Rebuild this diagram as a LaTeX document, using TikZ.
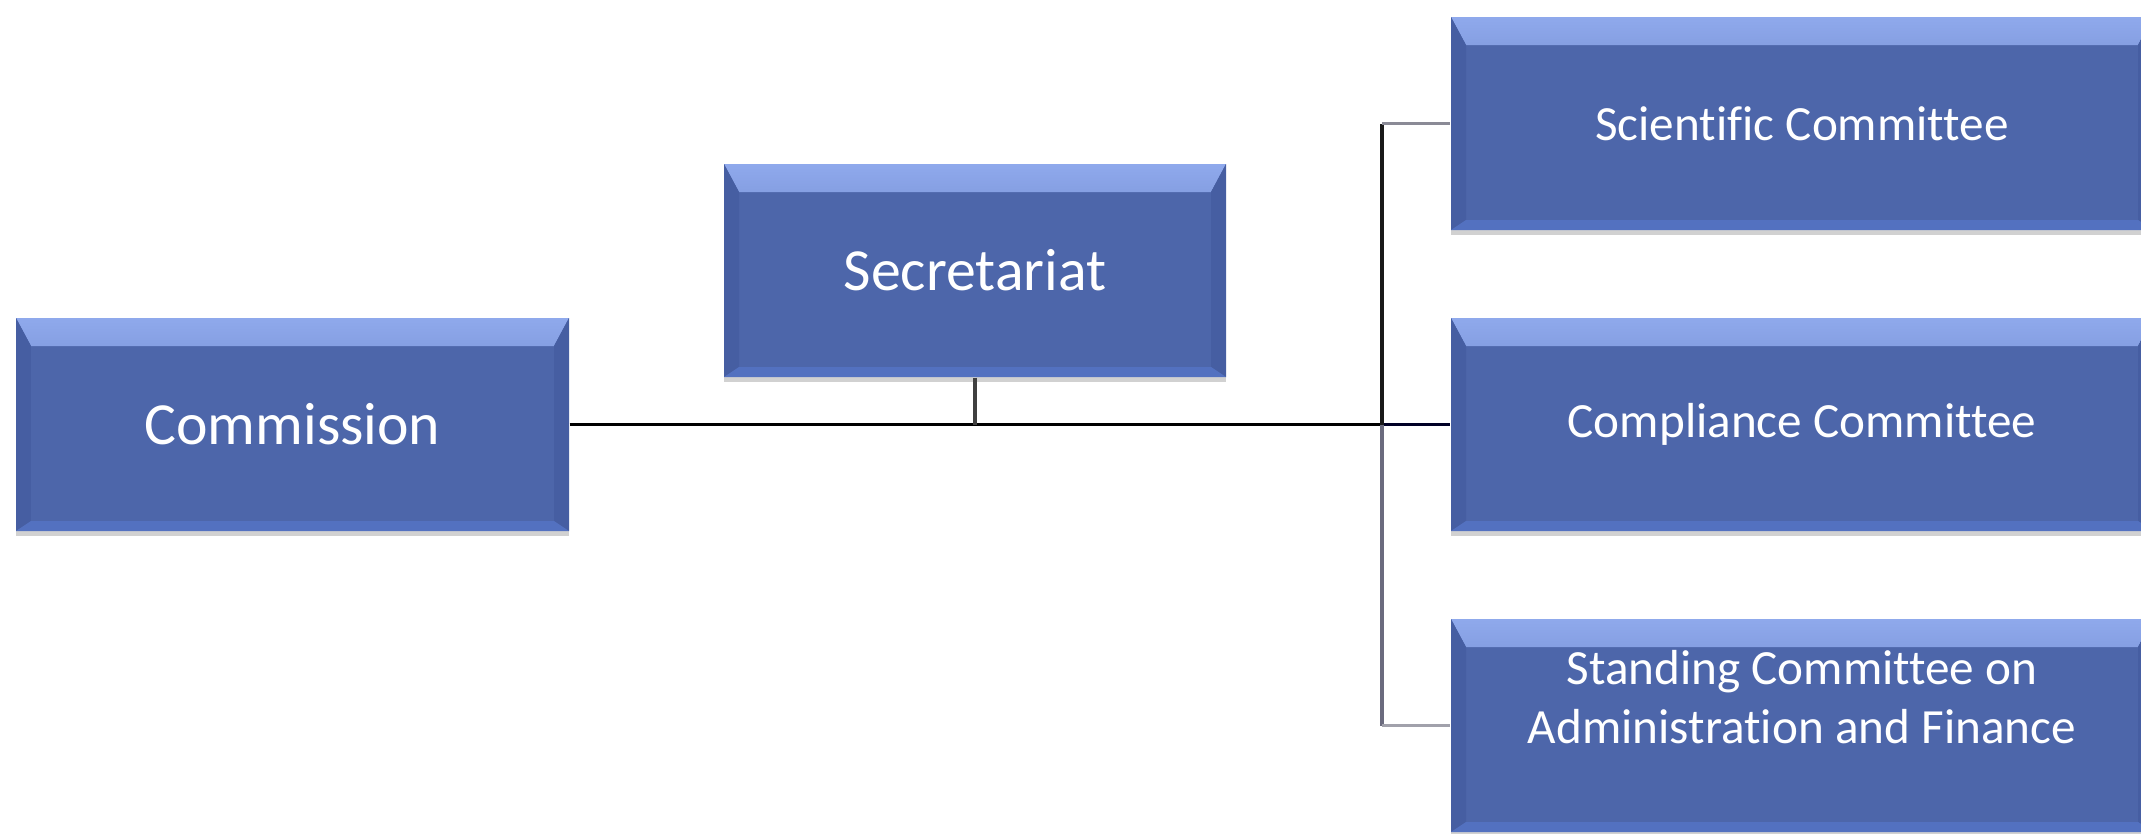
\documentclass[tikz,border=0pt]{standalone}
\usepackage{fontspec}
\setmainfont[Ligatures=NoCommon]{Carlito}
\usetikzlibrary{shadows}

\definecolor{boxblue}{HTML}{4D66AA}
\definecolor{bevtop}{HTML}{8FA9EC}
\definecolor{bevside}{HTML}{465EA2}
\definecolor{bevbottom}{HTML}{5371C0}
\definecolor{stubgray}{HTML}{8A8A96}
\definecolor{busgray}{HTML}{6B6B7E}

\begin{document}
\begin{tikzpicture}[
    orgbox/.style={fill=boxblue, text=white, align=center, inner sep=2pt,
        minimum height=2.13cm,
        drop shadow={shadow xshift=0pt, shadow yshift=-0.05cm, opacity=0.3, fill=black!60},
        path picture={
            % bevelled edges
            \shade[top color=bevtop, bottom color=boxblue, middle color=bevtop!45!boxblue]
                (path picture bounding box.north west) -- (path picture bounding box.north east)
                -- ([xshift=-\bevs,yshift=-\bevt]path picture bounding box.north east)
                -- ([xshift=\bevs,yshift=-\bevt]path picture bounding box.north west) -- cycle;
            \fill[bevside]
                (path picture bounding box.north west) -- ([xshift=\bevs,yshift=-\bevt]path picture bounding box.north west)
                -- ([xshift=\bevs,yshift=\bevb]path picture bounding box.south west) -- (path picture bounding box.south west) -- cycle;
            \fill[bevside]
                (path picture bounding box.north east) -- ([xshift=-\bevs,yshift=-\bevt]path picture bounding box.north east)
                -- ([xshift=-\bevs,yshift=\bevb]path picture bounding box.south east) -- (path picture bounding box.south east) -- cycle;
            \fill[bevbottom]
                (path picture bounding box.south west) -- ([xshift=\bevs,yshift=\bevb]path picture bounding box.south west)
                -- ([xshift=-\bevs,yshift=\bevb]path picture bounding box.south east) -- (path picture bounding box.south east) -- cycle;
        }},
    bigtext/.style={font=\fontsize{17}{20}\selectfont},
    smalltext/.style={font=\fontsize{14}{17}\selectfont},
    conn/.style={line width=0.9pt}
]
    % Bevel sizes
    \def\bevt{0.28cm} % top
    \def\bevs{0.15cm} % sides
    \def\bevb{0.1cm}  % bottom

    % Fix the page size
    \useasboundingbox (0, 0) rectangle (21.41, 8.33);

    % Draw the boxes
    \node[orgbox, bigtext, minimum width=5.53cm] (comm) at (2.925, 4.085) {Commission};
    \node[orgbox, bigtext, minimum width=5.02cm] (secr) at (9.75, 5.625) {Secretariat};
    \node[orgbox, smalltext, minimum width=7.02cm] (sci) at (18.02, 7.095) {Scientific Committee};
    \node[orgbox, smalltext, minimum width=7.02cm] (compl) at (18.02, 4.085) {Compliance Committee};
    \node[orgbox, smalltext, minimum width=7.02cm, text depth=0.57cm] (scaf) at (18.02, 1.075)
        {Standing Committee on\\Administration and Finance};

    % Point where the committees branch off
    \coordinate (bus) at (13.82, 4.085);

    % Draw the connectors
    \draw[conn] (comm.east) -- (bus);
    \draw[conn, draw=black!85!blue] (bus) -- (compl.west);
    \draw[conn, draw=black!75] (secr.south) -- (secr.south |- comm.east);
    \draw[conn, draw=black!90] (bus) -- (bus |- sci.west);
    \draw[conn, draw=stubgray] (bus |- sci.west) -- (sci.west);
    \draw[conn, draw=busgray] (bus) -- (bus |- scaf.west);
    \draw[conn, draw=stubgray!80] (bus |- scaf.west) -- (scaf.west);
\end{tikzpicture}
\end{document}
